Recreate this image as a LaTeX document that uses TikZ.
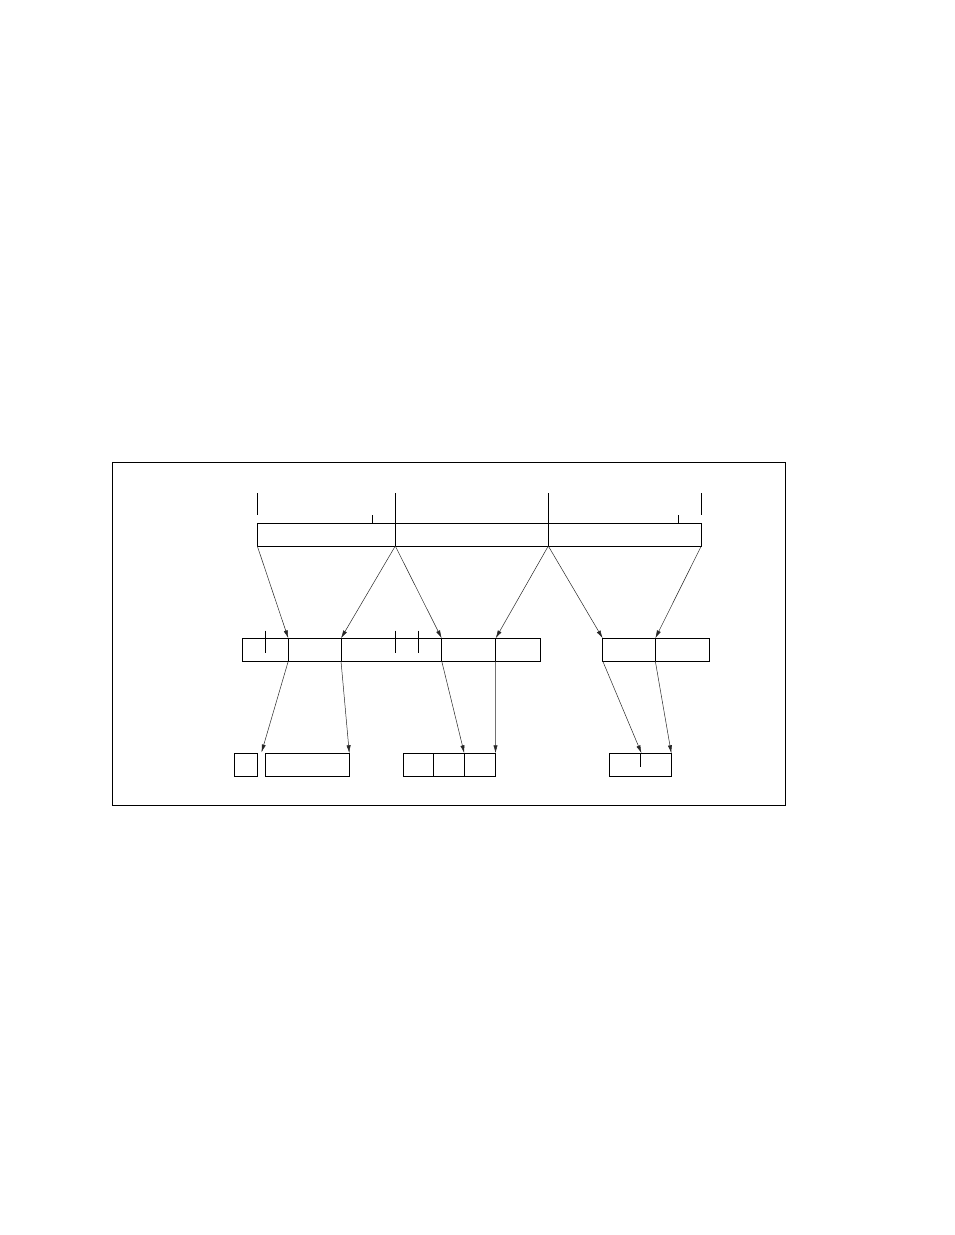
\documentclass[tikz,border=0pt]{standalone}
\usetikzlibrary{arrows.meta}
\tikzset{
  box/.style={draw=black, line width=0.9pt},
  tick/.style={draw=black, line width=0.9pt},
  ptr/.style={draw=black!85, line width=0.5pt, -{Latex[length=8pt,width=4.2pt]}},
}
\begin{document}
\begin{tikzpicture}[x=1pt,y=-1pt]
\useasboundingbox (0,0) rectangle (954,1235);
% frame
\draw[line width=0.9pt] (112.3,462.3) rectangle (785,805.7);

% top row
\draw[box] (257.3,523.3) rectangle (701.3,546);
\draw[tick] (395.3,493) -- (395.3,546);
\draw[tick] (548.3,493) -- (548.3,546);
\draw[tick] (257.3,493) -- (257.3,515);
\draw[tick] (701.3,493) -- (701.3,515);
\draw[tick] (372.7,515) -- (372.7,523.3);
\draw[tick] (678.3,515) -- (678.3,523.3);
\coordinate (t0) at (257.3,546);
\coordinate (t1) at (395.3,546);
\coordinate (t2) at (548.3,546);
\coordinate (t3) at (701.3,546);

% middle row
\draw[box] (242.3,638.3) rectangle (540.3,661);
\draw[tick] (288.3,638.3) -- (288.3,661);
\draw[tick] (341,638.3) -- (341,661);
\draw[tick] (441.7,638.3) -- (441.7,661);
\draw[tick] (495.7,638.3) -- (495.7,661);
\draw[tick] (265.3,630.7) -- (265.3,653.3);
\draw[tick] (395.7,630.7) -- (395.7,653.3);
\draw[tick] (418.7,630.7) -- (418.7,653.3);
\draw[box] (602.7,638.3) rectangle (709.3,661);
\draw[tick] (655.3,638.3) -- (655.3,661);
\coordinate (ma) at (288.3,638.3);
\coordinate (mb) at (341,638.3);
\coordinate (mc) at (441.7,638.3);
\coordinate (md) at (495.7,638.3);
\coordinate (me) at (602.7,638.3);
\coordinate (mf) at (655.3,638.3);
\coordinate (ma2) at (288.3,661);
\coordinate (mb2) at (341,661);
\coordinate (mc2) at (441.7,661);
\coordinate (md2) at (495.7,661);
\coordinate (me2) at (602.7,661);
\coordinate (mf2) at (655.3,661);

% bottom row
\draw[box] (234.3,753.3) rectangle (257.3,776);
\draw[box] (265.3,753.3) rectangle (349.3,776);
\draw[box] (403.3,753.3) rectangle (495.3,776);
\draw[tick] (433.3,753.3) -- (433.3,776);
\draw[tick] (464.3,753.3) -- (464.3,776);
\draw[box] (609.3,753.3) rectangle (671.3,776);
\draw[tick] (640.3,753.3) -- (640.3,767.3);
\coordinate (ba) at (261.5,752.5);
\coordinate (bb) at (349.3,753.3);
\coordinate (bc) at (464.3,753.3);
\coordinate (bd) at (495.5,753.3);
\coordinate (be) at (641.5,753.3);
\coordinate (bf) at (671.3,753.3);

% pointers top -> middle
\draw[ptr] (t0) -- (ma);
\draw[ptr] (t1) -- (mb);
\draw[ptr] (t1) -- (mc);
\draw[ptr] (t2) -- (md);
\draw[ptr] (t2) -- (me);
\draw[ptr] (t3) -- (mf);

% pointers middle -> bottom
\draw[ptr] (ma2) -- (ba);
\draw[ptr] (mb2) -- (bb);
\draw[ptr] (mc2) -- (bc);
\draw[ptr] (md2) -- (bd);
\draw[ptr] (me2) -- (be);
\draw[ptr] (mf2) -- (bf);
\end{tikzpicture}
\end{document}
